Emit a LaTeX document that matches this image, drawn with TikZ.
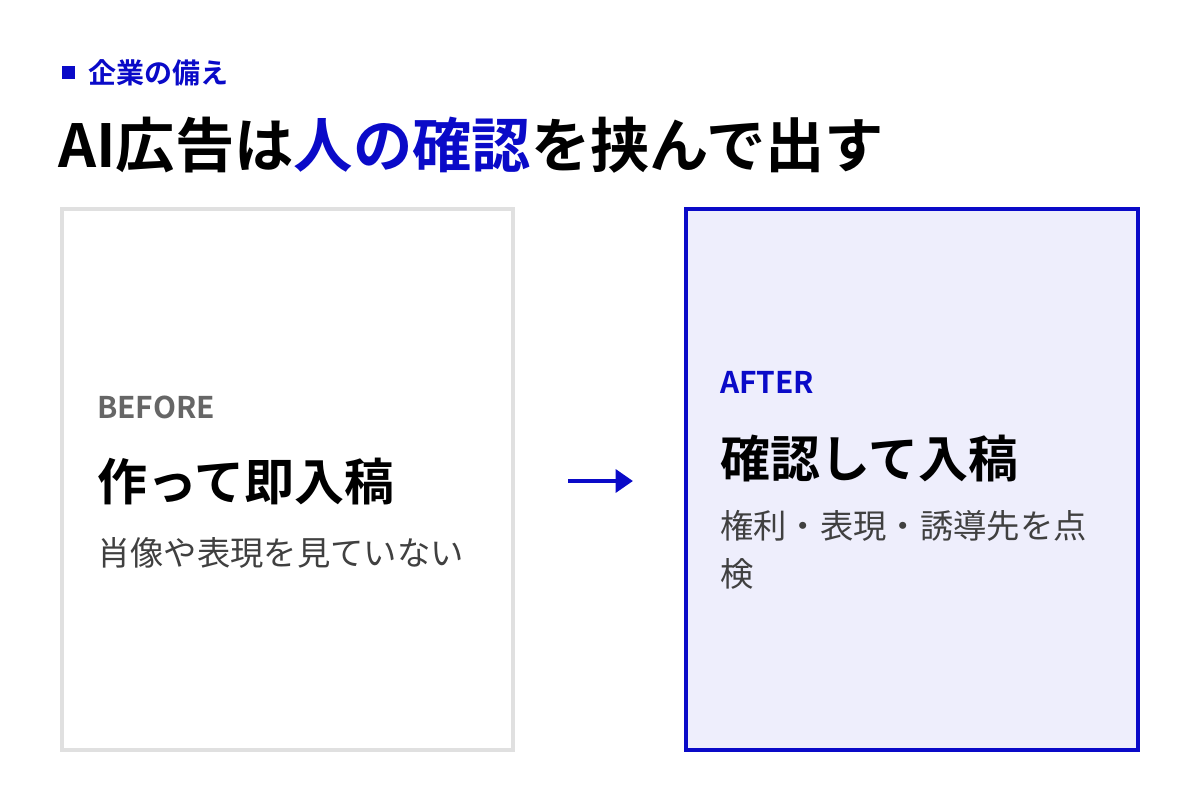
\documentclass[tikz,border=0pt]{standalone}
\usepackage{fontspec}
\newfontfamily\jpfont{Noto Sans CJK JP}
\newfontfamily\jpbold{Noto Sans CJK JP Bold}
\usetikzlibrary{positioning, arrows.meta}
\definecolor{accent}{HTML}{0A0AC8}
\definecolor{lightbg}{HTML}{EEEEFC}
\definecolor{graybox}{HTML}{E0E0E0}
\begin{document}
\begin{tikzpicture}[
    x=0.75pt, y=0.75pt,
    every node/.style={inner sep=0pt, anchor=west},
    tag/.style={font=\jpbold\fontsize{22.4}{25}\selectfont},
    head/.style={font=\jpbold\fontsize{37.5}{42}\selectfont, text=black},
    note/.style={font=\jpfont\fontsize{25}{36}\selectfont, text=black!75, align=left},
    box/.style={line width=2.3pt}
]
   \useasboundingbox (0,0) rectangle (1200,-800);

   % header
   \fill[accent] (62,-66) rectangle (75,-79);
   \node[font=\jpbold\fontsize{21}{24}\selectfont, text=accent] (kicker) at (88,-73) {企業の備え};
   \node[font=\jpbold\fontsize{44.5}{50}\selectfont] (title) at (58,-145) {AI広告は\textcolor{accent}{人の確認}を挟んで出す};

   % panels
   \draw[box, draw=graybox, fill=white] (62,-209) rectangle (513,-750);
   \draw[box, draw=accent, fill=lightbg] (686,-209) rectangle (1138,-750);

   % before side
   \node[tag, text=black!60] (before) at (97,-407) {BEFORE};
   \node[head] (bhead) at (97,-482) {作って即入稿};
   \node[note] (bnote) at (97,-553) {肖像や表現を見ていない};

   % after side
   \node[tag, text=accent] (after) at (720,-382) {AFTER};
   \node[head] (ahead) at (720,-458) {確認して入稿};
   \node[note, anchor=north west] (anote) at (720,-510) {権利・表現・誘導先を点\\検};

   % arrow
   \coordinate (from) at (568,-481);
   \coordinate (to) at (633,-481);
   \draw[accent, line width=3.5pt, -{Triangle[length=13pt,width=17pt]}] (from) -- (to);
\end{tikzpicture}
\end{document}
